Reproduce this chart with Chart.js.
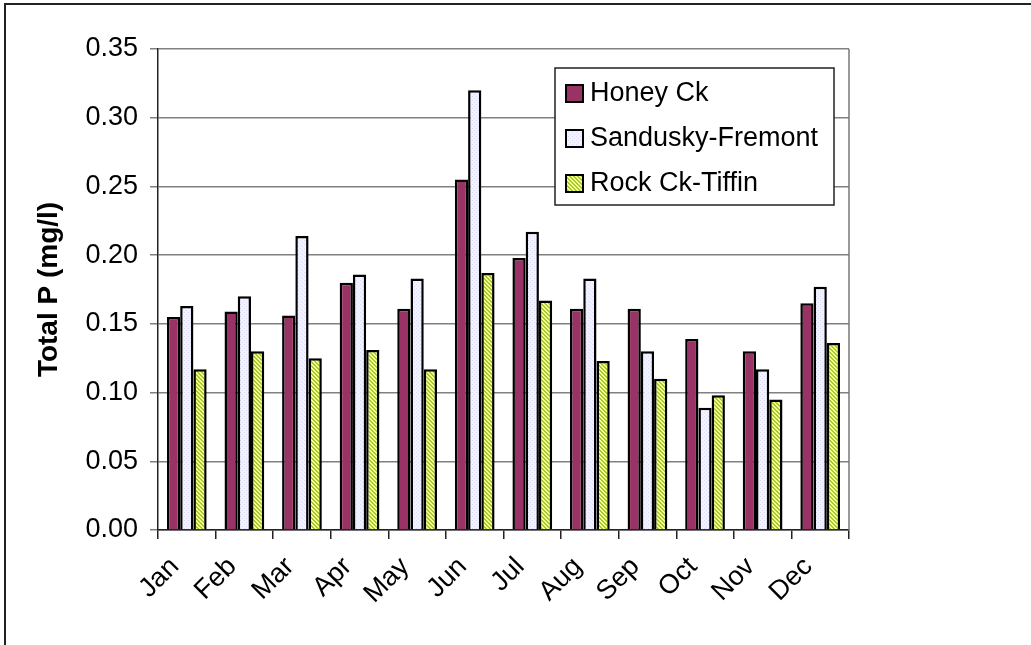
<!DOCTYPE html>
<html>
<head>
<meta charset="UTF-8">
<title>Total P by month</title>
<script src="https://cdn.jsdelivr.net/npm/chart.js"></script>
<style>
  html, body { margin: 0; padding: 0; background: #fff; }
  #wrap { width: 1031px; height: 645px; position: relative; }
</style>
</head>
<body>
<div id="wrap"><canvas id="chart"></canvas></div>
<script>
// data
const months = ['Jan','Feb','Mar','Apr','May','Jun','Jul','Aug','Sep','Oct','Nov','Dec'];
const honeyCk   = [0.155, 0.159, 0.156, 0.180, 0.161, 0.255, 0.198, 0.161, 0.161, 0.139, 0.130, 0.165];
const sandusky  = [0.163, 0.170, 0.214, 0.186, 0.183, 0.320, 0.217, 0.183, 0.130, 0.089, 0.117, 0.177];
const rockCk    = [0.117, 0.130, 0.125, 0.131, 0.117, 0.187, 0.167, 0.123, 0.110, 0.098, 0.095, 0.136];
const seriesNames = ['Honey Ck', 'Sandusky-Fremont', 'Rock Ck-Tiffin'];

const FONT = 'Arial, "Liberation Sans", sans-serif';

// fill patterns like the old spreadsheet look
function makePattern(bg, fg, kind) {
  const c = document.createElement('canvas');
  c.width = 4; c.height = 4;
  const g = c.getContext('2d');
  g.fillStyle = bg; g.fillRect(0, 0, 4, 4);
  g.fillStyle = fg;
  if (kind === 'diag') {
    for (let i = 0; i < 4; i++) g.fillRect((i + 1) % 4, i, 1, 1);
    for (let i = 0; i < 4; i++) g.fillRect((i + 2) % 4, i, 1, 1);
  } else {
    g.fillRect(0, 0, 1, 1); g.fillRect(2, 2, 1, 1);
  }
  return g.createPattern(c, 'repeat');
}
const fills = [
  '#993366',
  makePattern('#f2f2ff', '#dcdcf4', 'dots'),
  makePattern('#f4ff90', '#a8c832', 'diag')
];

// outer frame (left and top only are visible in the picture)
const framePlugin = {
  id: 'frame',
  beforeDraw(chart) {
    const ctx = chart.ctx;
    ctx.save();
    ctx.fillStyle = '#fff';
    ctx.fillRect(0, 0, chart.width, chart.height);
    ctx.strokeStyle = '#222';
    ctx.lineWidth = 2;
    ctx.beginPath();
    ctx.moveTo(5, chart.height);
    ctx.lineTo(5, 4);
    ctx.lineTo(chart.width, 4);
    ctx.stroke();
    ctx.restore();
  },
  afterDatasetsDraw(chart) {
    const a = chart.chartArea, ctx = chart.ctx;
    ctx.save();
    ctx.strokeStyle = '#777';
    ctx.lineWidth = 1.5;
    ctx.beginPath();
    ctx.moveTo(a.right, a.top);
    ctx.lineTo(a.right, a.bottom);
    ctx.stroke();
    ctx.restore();
  }
};

// boxed legend inside the plot
const boxLegend = {
  id: 'boxLegend',
  afterDraw(chart) {
    const ctx = chart.ctx;
    const x = 555, y = 68, w = 279, h = 137;
    ctx.save();
    ctx.fillStyle = '#fff';
    ctx.fillRect(x, y, w, h);
    ctx.strokeStyle = '#222';
    ctx.lineWidth = 1.5;
    ctx.strokeRect(x, y, w, h);
    ctx.font = '27px ' + FONT;
    ctx.textBaseline = 'middle';
    chart.data.datasets.forEach((ds, i) => {
      const cy = 94 + i * 45;
      ctx.fillStyle = ds.backgroundColor;
      ctx.fillRect(566, cy - 9, 17, 17);
      ctx.lineWidth = 2;
      ctx.strokeStyle = '#000';
      ctx.strokeRect(566, cy - 9, 17, 17);
      ctx.fillStyle = '#000';
      ctx.fillText(ds.label, 590, cy);
    });
    ctx.restore();
  }
};

new Chart(document.getElementById('chart'), {
  type: 'bar',
  data: {
    labels: months,
    datasets: [
      { label: seriesNames[0], data: honeyCk,  backgroundColor: fills[0] },
      { label: seriesNames[1], data: sandusky, backgroundColor: fills[1] },
      { label: seriesNames[2], data: rockCk,   backgroundColor: fills[2] }
    ]
  },
  options: {
    responsive: true,
    maintainAspectRatio: false,
    animation: false,
    layout: { padding: { left: 0, top: 49, right: 182, bottom: 0 } },
    datasets: {
      bar: {
        borderColor: '#000',
        borderWidth: 2.5,
        borderSkipped: 'bottom',
        categoryPercentage: 0.69,
        barPercentage: 1.0
      }
    },
    plugins: {
      legend: { display: false },
      tooltip: { enabled: false }
    },
    scales: {
      x: {
        afterFit(s) { s.height = 115; },
        grid: { offset: true, drawOnChartArea: false, tickLength: 9, color: '#222', lineWidth: 1.5 },
        border: { color: '#222', width: 1.5 },
        ticks: {
          color: '#000',
          font: { family: FONT, size: 27 },
          minRotation: 45,
          maxRotation: 45,
          labelOffset: -12,
          padding: 12,
          autoSkip: false
        }
      },
      y: {
        min: 0,
        max: 0.35,
        afterFit(s) { s.width = 158; },
        grid: { color: '#808080', lineWidth: 1.5, tickLength: 8 },
        border: { color: '#222', width: 1.5 },
        ticks: {
          stepSize: 0.05,
          color: '#000',
          padding: 12,
          font: { family: FONT, size: 27 },
          callback: v => v.toFixed(2)
        },
        title: {
          display: true,
          text: 'Total P (mg/l)',
          color: '#000',
          font: { family: FONT, size: 28, weight: 'bold' },
          padding: { top: 32, bottom: 0 }
        }
      }
    }
  },
  plugins: [framePlugin, boxLegend]
});
</script>
</body>
</html>
